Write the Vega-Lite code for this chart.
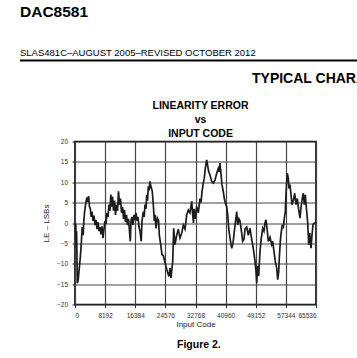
{
  "$schema": "https://vega.github.io/schema/vega-lite/v6.json",
  "padding": {"left": 20, "top": 4.5, "right": 0, "bottom": 4},
  "background": "white",
  "config": {
    "font": "Liberation Sans",
    "concat": {"spacing": 10},
    "view": {"stroke": null},
    "title": {"color": "black", "fontWeight": "bold", "font": "Liberation Sans"},
    "axis": {
      "gridColor": "#444444", "gridWidth": 1.2, "gridOpacity": 1,
      "domain": false, "tickColor": "#222222", "tickSize": 3, "tickWidth": 1,
      "labelFontSize": 6.5, "labelColor": "#333333", "labelPadding": 4.5, "labelOverlap": false,
      "titleFontWeight": "normal", "titleFontSize": 8, "titleColor": "#222222"
    }
  },
  "title": {"text": "Figure 2.", "orient": "bottom", "anchor": "start", "frame": "bounds", "dx": 157, "fontSize": 10.5, "offset": 11},
  "vconcat": [
    {
      "width": 337, "height": 2,
      "title": {
        "text": "DAC8581",
        "subtitle": "SLAS481C–AUGUST 2005–REVISED OCTOBER 2012",
        "anchor": "start",
        "font": "Liberation Sans", "fontSize": 15.5,
        "subtitleFont": "Liberation Sans", "subtitleFontSize": 9.5, "subtitleColor": "black",
        "subtitlePadding": 27.5, "offset": 2
      },
      "data": {"values": [{"part": "header rule"}]},
      "mark": {"type": "rect", "color": "black"},
      "encoding": {}
    },
    {
      "bounds": "flush",
      "spacing": 0,
      "hconcat": [
        {
          "width": 55, "height": 163,
          "title": {"text": "TYPICAL CHARACTERISTICS", "anchor": "start", "dx": 232, "fontSize": 14, "offset": 55.5},
          "data": {"values": []},
          "mark": "rect",
          "encoding": {}
        },
        {
          "width": 241, "height": 163,
          "view": {"stroke": "black", "strokeWidth": 1.6},
          "title": {"text": ["LINEARITY ERROR", "vs", "INPUT CODE"], "fontSize": 10.5, "lineHeight": 14, "anchor": "middle", "dx": 5, "offset": -1},
          "data": {"values": [
            {"code": 0, "le": 0.0}, {"code": 218, "le": -0.5}, {"code": 326, "le": -6}, {"code": 435, "le": -2},
            {"code": 625, "le": -14.8}, {"code": 870, "le": -14.0}, {"code": 1169, "le": -11.0}, {"code": 1441, "le": -8.5},
            {"code": 1713, "le": -5}, {"code": 1958, "le": -1}, {"code": 2230, "le": -3}, {"code": 2366, "le": 0},
            {"code": 2583, "le": 2.5}, {"code": 2801, "le": 4}, {"code": 3046, "le": 5.5}, {"code": 3263, "le": 6.3},
            {"code": 3481, "le": 5.2}, {"code": 3698, "le": 6.6}, {"code": 3943, "le": 4.0}, {"code": 4161, "le": 3.5},
            {"code": 4405, "le": 1.5}, {"code": 4623, "le": 2.8}, {"code": 4895, "le": 0.5}, {"code": 5167, "le": 1.8},
            {"code": 5439, "le": -0.5}, {"code": 5711, "le": 0.8}, {"code": 5983, "le": -1.5}, {"code": 6254, "le": 0.2},
            {"code": 6526, "le": -2.0}, {"code": 6798, "le": -1}, {"code": 7070, "le": -2.8}, {"code": 7342, "le": -0.8},
            {"code": 7614, "le": -3.7}, {"code": 7886, "le": -1.5}, {"code": 8158, "le": 0.5}, {"code": 8430, "le": -0.2},
            {"code": 8702, "le": 2.5}, {"code": 8974, "le": 1.5}, {"code": 9246, "le": 4.5}, {"code": 9518, "le": 3.0},
            {"code": 9735, "le": 7.0}, {"code": 9980, "le": 4.0}, {"code": 10198, "le": 6.5}, {"code": 10469, "le": 3.0},
            {"code": 10741, "le": 5.5}, {"code": 11013, "le": 2.0}, {"code": 11285, "le": 4.5}, {"code": 11557, "le": 3.0},
            {"code": 11829, "le": 7.8}, {"code": 12101, "le": 4.5}, {"code": 12373, "le": 6.0}, {"code": 12645, "le": 2.5},
            {"code": 12917, "le": 4.0}, {"code": 13189, "le": 1.0}, {"code": 13461, "le": 3.2}, {"code": 13733, "le": 0.2},
            {"code": 14005, "le": 2.0}, {"code": 14277, "le": -0.5}, {"code": 14548, "le": 1.0}, {"code": 14820, "le": -2.0},
            {"code": 15038, "le": -4.5}, {"code": 15228, "le": 0.5}, {"code": 15500, "le": 1.5}, {"code": 15772, "le": -0.5},
            {"code": 16044, "le": 2.0}, {"code": 16316, "le": 0.7}, {"code": 16588, "le": 2.5}, {"code": 16860, "le": 0.5},
            {"code": 17132, "le": 1.5}, {"code": 17404, "le": -1.0}, {"code": 17676, "le": -2.0}, {"code": 18002, "le": -4.5},
            {"code": 18220, "le": 0.5}, {"code": 18573, "le": 2.8}, {"code": 18818, "le": 1.5}, {"code": 19035, "le": 4.5},
            {"code": 19307, "le": 3.5}, {"code": 19498, "le": 6.9}, {"code": 19715, "le": 5.5}, {"code": 19933, "le": 9.0},
            {"code": 20177, "le": 8.0}, {"code": 20395, "le": 10.2}, {"code": 20613, "le": 9.0}, {"code": 20803, "le": 8.5},
            {"code": 21020, "le": 7.7}, {"code": 21292, "le": 4.5}, {"code": 21564, "le": 0.5}, {"code": 21755, "le": 2.0},
            {"code": 22027, "le": -1.3}, {"code": 22380, "le": 1.2}, {"code": 22734, "le": 0.5}, {"code": 22924, "le": -2.9},
            {"code": 23305, "le": -5.3}, {"code": 23658, "le": -7.8}, {"code": 24012, "le": -8.0}, {"code": 24392, "le": -9.4},
            {"code": 24746, "le": -10.7}, {"code": 25099, "le": -11.9}, {"code": 25562, "le": -13.1}, {"code": 25834, "le": -11.0},
            {"code": 26106, "le": -13.5}, {"code": 26568, "le": -9.4}, {"code": 26840, "le": -1.3}, {"code": 27193, "le": -5.3},
            {"code": 27656, "le": -3.0}, {"code": 28091, "le": -1.5}, {"code": 28553, "le": -3.7}, {"code": 29015, "le": -2.5},
            {"code": 29450, "le": -0.5}, {"code": 29913, "le": -1.5}, {"code": 30375, "le": 2.0}, {"code": 30810, "le": 3.2},
            {"code": 31272, "le": 2.5}, {"code": 31735, "le": 5.3}, {"code": 32007, "le": 2.0}, {"code": 32224, "le": 0.0},
            {"code": 32360, "le": 3.5}, {"code": 32632, "le": 1.0}, {"code": 33094, "le": 4.0}, {"code": 33529, "le": 2.5},
            {"code": 33992, "le": 6.0}, {"code": 34264, "le": 5.0}, {"code": 34536, "le": 7.7}, {"code": 34889, "le": 9.8},
            {"code": 35161, "le": 11.0}, {"code": 35433, "le": 13.4}, {"code": 35814, "le": 15.5}, {"code": 36086, "le": 14.0},
            {"code": 36357, "le": 12.6}, {"code": 36711, "le": 11.8}, {"code": 37173, "le": 10.2}, {"code": 37608, "le": 9.8},
            {"code": 38071, "le": 10.5}, {"code": 38533, "le": 12.2}, {"code": 38968, "le": 13.4}, {"code": 39240, "le": 12.5},
            {"code": 39430, "le": 14.7}, {"code": 39702, "le": 12.0}, {"code": 39974, "le": 9.4}, {"code": 40328, "le": 7.7},
            {"code": 40600, "le": 6.0}, {"code": 40872, "le": 4.9}, {"code": 41252, "le": 4.0}, {"code": 41524, "le": 2.0},
            {"code": 41796, "le": -1.3}, {"code": 42150, "le": -3.7}, {"code": 42612, "le": -6.2}, {"code": 42966, "le": -5.0},
            {"code": 43319, "le": -2.1}, {"code": 43700, "le": 0.8}, {"code": 43972, "le": 2.8}, {"code": 44244, "le": -0.5},
            {"code": 44597, "le": 1.0}, {"code": 44869, "le": 0.5}, {"code": 45331, "le": -2.5}, {"code": 45603, "le": -4.5},
            {"code": 45957, "le": -4.0}, {"code": 46229, "le": -1.5}, {"code": 46691, "le": -1.0}, {"code": 47126, "le": -3.0},
            {"code": 47588, "le": -1.3}, {"code": 48051, "le": -4.0}, {"code": 48486, "le": -6.2}, {"code": 48948, "le": -9.4},
            {"code": 49220, "le": -11.9}, {"code": 49411, "le": -14.8}, {"code": 49682, "le": -10.5}, {"code": 49954, "le": -13.0},
            {"code": 50308, "le": -7.0}, {"code": 50661, "le": -3.7}, {"code": 51042, "le": -1.3}, {"code": 51396, "le": -2.0},
            {"code": 51667, "le": 0.0}, {"code": 51939, "le": 0.8}, {"code": 52293, "le": -2.0}, {"code": 52565, "le": -4.5},
            {"code": 53027, "le": -3.5}, {"code": 53490, "le": -5.3}, {"code": 53761, "le": -4.5}, {"code": 54115, "le": -7.0},
            {"code": 54468, "le": -9.4}, {"code": 54849, "le": -11.0}, {"code": 55121, "le": -13.9}, {"code": 55393, "le": -12.0},
            {"code": 55556, "le": -8.6}, {"code": 55828, "le": -4.5}, {"code": 56100, "le": -2.1}, {"code": 56372, "le": -0.4},
            {"code": 56644, "le": -1.3}, {"code": 56916, "le": 1.2}, {"code": 57188, "le": 2.8}, {"code": 57378, "le": 6.9},
            {"code": 57569, "le": 10.2}, {"code": 57732, "le": 12.2}, {"code": 58004, "le": 11.0}, {"code": 58194, "le": 8.5},
            {"code": 58466, "le": 9.4}, {"code": 58738, "le": 6.9}, {"code": 59010, "le": 4.5}, {"code": 59363, "le": 5.5},
            {"code": 59744, "le": 7.3}, {"code": 60097, "le": 4.5}, {"code": 60451, "le": 6.0}, {"code": 60832, "le": 3.2},
            {"code": 61185, "le": 1.2}, {"code": 61457, "le": 3.8}, {"code": 61811, "le": 6.1}, {"code": 62083, "le": 7.3},
            {"code": 62355, "le": 4.5}, {"code": 62626, "le": 6.9}, {"code": 63007, "le": 2.8}, {"code": 63279, "le": 0.0},
            {"code": 63551, "le": -5.3}, {"code": 63850, "le": -2.5}, {"code": 64176, "le": -6.2}, {"code": 64448, "le": -3.0},
            {"code": 64720, "le": -0.4}, {"code": 65074, "le": 0.0}, {"code": 65455, "le": 0.0}, {"code": 65536, "le": 0.3}
          ]},
          "mark": {"type": "line", "color": "#1c1c1c", "strokeWidth": 1.7},
          "encoding": {
            "x": {
              "field": "code", "type": "quantitative",
              "scale": {"domain": [0, 65536], "nice": false, "zero": false},
              "axis": {"values": [0, 8192, 16384, 24576, 32768, 40960, 49152, 57344, 65536], "format": "d", "title": "Input Code", "titlePadding": 2}
            },
            "y": {
              "field": "le", "type": "quantitative",
              "scale": {"domain": [-20, 20], "nice": false},
              "axis": {"values": [-20, -15, -10, -5, 0, 5, 10, 15, 20], "title": "LE – LSBs", "titlePadding": 5.5}
            }
          }
        }
      ]
    }
  ]
}
